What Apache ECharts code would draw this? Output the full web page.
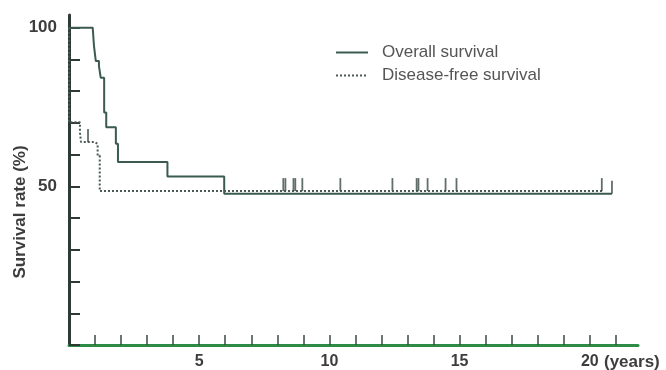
<!DOCTYPE html>
<html>
<head>
<meta charset="utf-8">
<script src="https://cdn.jsdelivr.net/npm/echarts@6/dist/echarts.min.js"></script>
<style>
  html, body { margin: 0; padding: 0; background: #fff; }
  #chart { width: 666px; height: 370px; }
</style>
</head>
<body>
<div id="chart"></div>
<script>
// Kaplan-Meier steps: [years, survival %]
var overallTimes  = [0, 0.91, 0.96, 1.03, 1.15, 1.22, 1.35, 1.43, 1.80, 1.88, 3.78, 5.96, 20.85];
var overallValues = [100, 100, 94.2, 89.5, 87.9, 84.2, 73.3, 68.6, 63.4, 57.7, 53.1, 47.7, 47.7];

var diseaseTimes  = [0, 0, 0.42, 0.46, 0.96, 1.10, 1.18, 20.5];
var diseaseValues = [100, 70.2, 67, 64, 63.4, 59.7, 48.5, 48.5];

// censored observations (small vertical marks)
var censorTimes  = [0.73, 8.23, 8.31, 8.62, 8.69, 8.96, 10.42, 12.42, 13.35, 13.42, 13.77, 14.46, 14.88, 20.46, 20.85];
var censorLevels = [64, 48.5, 48.5, 48.5, 48.5, 48.5, 48.5, 48.5, 48.5, 48.5, 48.5, 48.5, 48.5, 48.5, 47.7];

var yTicks = [0, 10, 20, 30, 40, 50, 60, 70, 80, 90, 100];
var yLabels = [50, 100];
var xTicks = [1, 2, 3, 4, 5, 6, 7, 8, 9, 10, 11, 12, 13, 14, 15, 16, 17, 18, 19, 20, 21];
var xLabels = [5, 10, 15, 20];

var FONT = 'Liberation Sans, Arial, sans-serif';

function pairs(a, b) {
    return a.map(function (v, i) { return [v, b[i]]; });
}

var chart = echarts.init(document.getElementById('chart'));
var option = {
    animation: false,
    backgroundColor: '#fff',
    grid: { left: 69, right: 28, top: 15, bottom: 23 },
    legend: {
        orient: 'vertical',
        left: 330,
        top: 39,
        itemWidth: 32,
        itemHeight: 14,
        itemGap: 6,
        itemStyle: { opacity: 0 },
        data: ['Overall survival', 'Disease-free survival'],
        textStyle: { fontSize: 17, color: '#555', fontFamily: FONT, padding: [0, 0, 0, 9] }
    },
    xAxis: {
        type: 'value',
        min: 0,
        max: 21.85,
        splitLine: { show: false },
        axisLine: { onZero: false, lineStyle: { color: '#2e8b46', width: 3 } },
        axisTick: { inside: true, length: 10, customValues: xTicks, lineStyle: { color: '#3a4a44', width: 1.5 } },
        axisLabel: {
            customValues: xLabels,
            margin: 9,
            fontSize: 16,
            fontWeight: 'bold',
            color: '#3d3d3d',
            fontFamily: FONT
        }
    },
    yAxis: {
        type: 'value',
        min: 0,
        max: 104,
        splitLine: { show: false },
        axisLine: { show: true, lineStyle: { color: '#2f3a36', width: 3 } },
        axisTick: { show: true, inside: true, length: 11, customValues: yTicks, lineStyle: { color: '#2f3a36', width: 2 } },
        axisLabel: {
            customValues: yLabels,
            margin: 12,
            fontSize: 17,
            fontWeight: 'bold',
            color: '#3d3d3d',
            fontFamily: FONT
        }
    },
    graphic: [
        {
            type: 'text',
            x: 20,
            y: 212,
            rotation: Math.PI / 2,
            style: {
                text: 'Survival rate (%)',
                fontSize: 17,
                fontWeight: 'bold',
                fill: '#3d3d3d',
                fontFamily: FONT,
                textAlign: 'center',
                textVerticalAlign: 'middle'
            }
        },
        {
            type: 'text',
            x: 604,
            y: 362,
            style: {
                text: '(years)',
                fontSize: 17,
                fontWeight: 'bold',
                fill: '#3d3d3d',
                fontFamily: FONT,
                textAlign: 'left',
                textVerticalAlign: 'middle'
            }
        }
    ],
    series: [
        {
            name: 'Overall survival',
            type: 'line',
            step: 'end',
            symbol: 'none',
            data: pairs(overallTimes, overallValues),
            lineStyle: { color: '#3b5b50', width: 2 },
            itemStyle: { color: '#3b5b50' }
        },
        {
            name: 'Disease-free survival',
            type: 'line',
            step: 'end',
            symbol: 'none',
            data: pairs(diseaseTimes, diseaseValues),
            lineStyle: { color: '#4a5a55', width: 2, type: 'dotted' },
            itemStyle: { color: '#4a5a55' }
        },
        {
            name: 'censored',
            type: 'scatter',
            symbol: 'rect',
            symbolSize: [1.8, 13],
            symbolOffset: [0, -6.5],
            data: pairs(censorTimes, censorLevels),
            itemStyle: { color: '#3a4a44' },
            z: 3
        }
    ]
};
chart.setOption(option);
</script>
</body>
</html>
